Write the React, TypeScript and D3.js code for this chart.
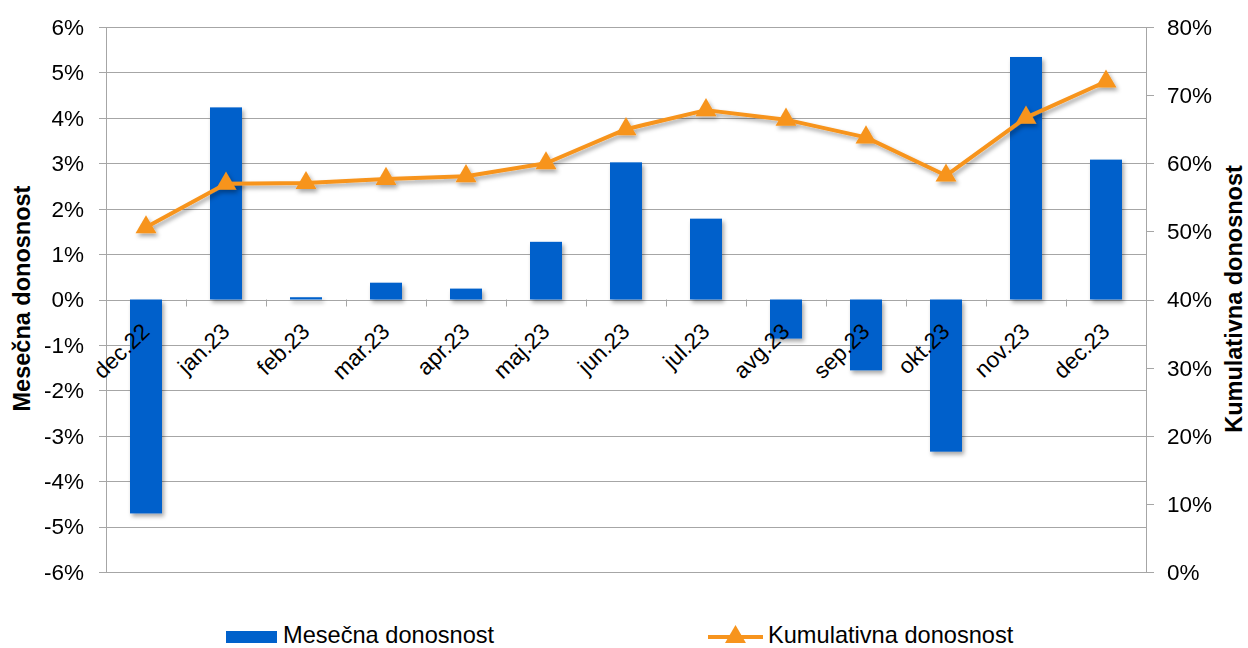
import React from "react";
import * as d3 from "d3";

const categories = ["dec.22","jan.23","feb.23","mar.23","apr.23","maj.23","jun.23","jul.23","avg.23","sep.23","okt.23","nov.23","dec.23"];
const monthly = [-4.71, 4.23, 0.05, 0.37, 0.24, 1.27, 3.02, 1.78, -0.86, -1.56, -3.35, 5.34, 3.08];
const cumulative = [50.6, 57.0, 57.1, 57.7, 58.1, 60.0, 65.0, 67.8, 66.4, 63.8, 58.2, 66.7, 72.0];
const leftTicks = [-6,-5,-4,-3,-2,-1,0,1,2,3,4,5,6];
const rightTicks = [0,10,20,30,40,50,60,70,80];

const W = 1248, H = 648;
const L = 106, R = 1146, T = 27, B = 572;
const BLUE = "#0061CB";
const ORANGE = "#F7941D";
const GRID = "#A6A6A6";
const FONT = "Liberation Sans, Arial, sans-serif";

export default function App() {
  const xb = d3.scaleBand<string>().domain(categories).range([L, R]);
  const yL = d3.scaleLinear().domain([-6, 6]).range([B, T]);
  const yR = d3.scaleLinear().domain([0, 80]).range([B, T]);
  const cx = (c: string) => (xb(c) as number) + xb.bandwidth() / 2;
  const line = d3.line<number>().x((_, i) => cx(categories[i])).y(d => yR(d));
  const tri = d3.symbol().type(d3.symbolTriangle).size(190);
  const bw = 32;

  return (
    <svg width={W} height={H} style={{ position: "absolute", left: 0, top: 0 }} fontFamily={FONT}>
      <defs>
        <filter id="sh" x="-30%" y="-30%" width="160%" height="160%">
          <feDropShadow dx="2" dy="3" stdDeviation="2.2" floodColor="#000" floodOpacity="0.35" />
        </filter>
      </defs>
      <rect width={W} height={H} fill="#fff" />
      {leftTicks.map(t => (
        <line key={"g" + t} x1={L} x2={R} y1={Math.round(yL(t)) + 0.5} y2={Math.round(yL(t)) + 0.5} stroke={GRID} strokeWidth={1} />
      ))}
      <line x1={L + 0.5} x2={L + 0.5} y1={T} y2={B} stroke={GRID} />
      <line x1={R + 0.5} x2={R + 0.5} y1={T} y2={B} stroke={GRID} />
      {leftTicks.map(t => (
        <line key={"lt" + t} x1={L - 7} x2={L} y1={Math.round(yL(t)) + 0.5} y2={Math.round(yL(t)) + 0.5} stroke={GRID} />
      ))}
      {rightTicks.map(t => (
        <line key={"rt" + t} x1={R} x2={R + 8} y1={Math.round(yR(t)) + 0.5} y2={Math.round(yR(t)) + 0.5} stroke={GRID} />
      ))}
      {categories.slice(1).map(c => (
        <line key={"xt" + c} x1={Math.round(xb(c) as number) + 0.5} x2={Math.round(xb(c) as number) + 0.5} y1={yL(0)} y2={yL(0) + 7} stroke={GRID} />
      ))}
      <g filter="url(#sh)">
        {monthly.map((v, i) => (
          <rect key={"b" + i} x={cx(categories[i]) - bw / 2} width={bw}
            y={Math.min(yL(v), yL(0))} height={Math.abs(yL(v) - yL(0))} fill={BLUE} />
        ))}
      </g>
      {categories.map(c => (
        <text key={"xl" + c} transform={`translate(${cx(c) + 5},${333}) rotate(-44)`} textAnchor="end"
          fontSize={22.5} fill="#000">{c}</text>
      ))}
      <g filter="url(#sh)">
        <path d={line(cumulative) || ""} fill="none" stroke={ORANGE} strokeWidth={4} strokeLinejoin="round" />
        {cumulative.map((v, i) => (
          <path key={"m" + i} d={tri() || ""} transform={`translate(${cx(categories[i])},${yR(v)})`} fill={ORANGE} />
        ))}
      </g>
      {leftTicks.map(t => (
        <text key={"ll" + t} x={84} y={yL(t)} dy="0.35em" textAnchor="end" fontSize={22.5} fill="#000">{t + "%"}</text>
      ))}
      {rightTicks.map(t => (
        <text key={"rl" + t} x={1167} y={yR(t)} dy="0.35em" textAnchor="start" fontSize={22.5} fill="#000">{t + "%"}</text>
      ))}
      <text transform={`translate(${30},${(T + B) / 2 - 1}) rotate(-90)`} textAnchor="middle" fontSize={23.5} fontWeight="bold" fill="#000">Mesečna donosnost</text>
      <text transform={`translate(${1242},${299}) rotate(-90)`} textAnchor="middle" fontSize={23.5} fontWeight="bold" fill="#000">Kumulativna donosnost</text>
      <rect x={226} y={631} width={51} height={12} fill={BLUE} />
      <text x={283} y={643} fontSize={23.6} fill="#000">Mesečna donosnost</text>
      <line x1={708} x2={763} y1={637} y2={637} stroke={ORANGE} strokeWidth={4} />
      <path d={tri() || ""} transform={`translate(735.5,${637})`} fill={ORANGE} />
      <text x={768} y={643} fontSize={23.6} fill="#000">Kumulativna donosnost</text>
    </svg>
  );
}
